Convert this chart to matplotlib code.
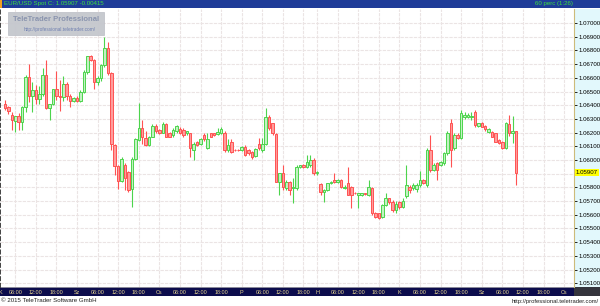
import matplotlib
matplotlib.use("Agg")
import matplotlib.pyplot as plt
from matplotlib.patches import Rectangle
import matplotlib.transforms as mtransforms

plt.rcParams['font.family'] = ['Liberation Sans', 'DejaVu Sans']

# ---------------- data (EUR/USD hourly) ----------------
opens = [
    1.06410, 1.06388, 1.06332, 1.06285, 1.06320, 1.06280, 1.06388, 1.06607, 1.06468, 1.06510,
    1.06444, 1.06480, 1.06624, 1.06380, 1.06407, 1.06515, 1.06470, 1.06460, 1.06554, 1.06466,
    1.06432, 1.06450, 1.06430, 1.06498, 1.06644, 1.06759, 1.06730, 1.06570, 1.06600, 1.06693,
    1.06815, 1.06632, 1.06110, 1.05955, 1.05845, 1.05960, 1.05910, 1.05790, 1.06010, 1.06146,
    1.06231, 1.06160, 1.06110, 1.06170, 1.06250, 1.06220, 1.06200, 1.06262, 1.06200, 1.06180,
    1.06210, 1.06225, 1.06220, 1.06195, 1.06195, 1.06075, 1.06135, 1.06120, 1.06185, 1.06085,
    1.06195, 1.06195, 1.06190, 1.06195, 1.06195, 1.06073, 1.06134, 1.06075, 1.06075, 1.06073,
    1.06098, 1.06073, 1.06061, 1.06030, 1.06120, 1.06073, 1.06114, 1.06316, 1.06267, 1.06187,
    1.05842, 1.05903, 1.05794, 1.05842, 1.05794, 1.05794, 1.05951, 1.05964, 1.05951, 1.05964,
    1.06000, 1.05903, 1.05823, 1.05764, 1.05781, 1.05830, 1.05854, 1.05842, 1.05854, 1.05794,
    1.05830, 1.05806, 1.05760, 1.05745, 1.05745, 1.05757, 1.05745, 1.05794, 1.05611, 1.05611,
    1.05587, 1.05672, 1.05721, 1.05696, 1.05636, 1.05690, 1.05660, 1.05740, 1.05806, 1.05794,
    1.05787, 1.05818, 1.05855, 1.05818, 1.06073, 1.05928, 1.05976, 1.05964, 1.05976, 1.06049,
    1.06273, 1.06086, 1.06183, 1.06159, 1.06316, 1.06316, 1.06316, 1.06353, 1.06248, 1.06268,
    1.06248, 1.06207, 1.06207, 1.06195, 1.06146, 1.06134, 1.06086, 1.06263, 1.06200, 1.06214,
]
highs = [
    1.06441, 1.06392, 1.06351, 1.06322, 1.06340, 1.06392, 1.06620, 1.06700, 1.06570, 1.06550,
    1.06540, 1.06668, 1.06730, 1.06410, 1.06520, 1.06650, 1.06583, 1.06610, 1.06570, 1.06480,
    1.06460, 1.06470, 1.06510, 1.06660, 1.06760, 1.06770, 1.06735, 1.06610, 1.06700, 1.06900,
    1.06863, 1.06640, 1.06120, 1.05965, 1.06020, 1.05980, 1.05920, 1.06020, 1.06160, 1.06414,
    1.06290, 1.06210, 1.06175, 1.06260, 1.06265, 1.06225, 1.06275, 1.06268, 1.06205, 1.06230,
    1.06255, 1.06240, 1.06230, 1.06215, 1.06200, 1.06135, 1.06140, 1.06160, 1.06195, 1.06195,
    1.06200, 1.06200, 1.06230, 1.06240, 1.06210, 1.06150, 1.06150, 1.06078, 1.06078, 1.06100,
    1.06110, 1.06080, 1.06065, 1.06090, 1.06160, 1.06158, 1.06382, 1.06328, 1.06270, 1.06194,
    1.05903, 1.05964, 1.05854, 1.05850, 1.05866, 1.05964, 1.05964, 1.05968, 1.06036, 1.06036,
    1.06012, 1.05920, 1.05830, 1.05790, 1.05830, 1.05850, 1.05903, 1.05860, 1.05860, 1.05815,
    1.05951, 1.05810, 1.05765, 1.05760, 1.05760, 1.05762, 1.05854, 1.05806, 1.05620, 1.05615,
    1.05680, 1.05757, 1.05725, 1.05710, 1.05700, 1.05700, 1.05720, 1.05964, 1.05815, 1.05830,
    1.05831, 1.05923, 1.05860, 1.06086, 1.06183, 1.05980, 1.05988, 1.05995, 1.06061, 1.06210,
    1.06300, 1.06195, 1.06195, 1.06365, 1.06353, 1.06340, 1.06353, 1.06365, 1.06270, 1.06275,
    1.06255, 1.06230, 1.06215, 1.06200, 1.06150, 1.06140, 1.06275, 1.06329, 1.06321, 1.06214,
]
lows = [
    1.06363, 1.06339, 1.06217, 1.06205, 1.06220, 1.06222, 1.06350, 1.06424, 1.06350, 1.06410,
    1.06410, 1.06470, 1.06370, 1.06290, 1.06400, 1.06440, 1.06360, 1.06430, 1.06440, 1.06390,
    1.06420, 1.06420, 1.06420, 1.06490, 1.06630, 1.06720, 1.06515, 1.06550, 1.06580, 1.06680,
    1.06620, 1.06071, 1.05890, 1.05785, 1.05840, 1.05780, 1.05770, 1.05660, 1.06000, 1.06140,
    1.06120, 1.06100, 1.06105, 1.06165, 1.06195, 1.06190, 1.06195, 1.06165, 1.06165, 1.06170,
    1.06200, 1.06190, 1.06170, 1.06185, 1.06025, 1.06000, 1.06100, 1.06110, 1.06140, 1.06080,
    1.06165, 1.06175, 1.06180, 1.06190, 1.06060, 1.06060, 1.06050, 1.06068, 1.06068, 1.06068,
    1.06030, 1.06040, 1.06010, 1.06020, 1.06070, 1.06060, 1.06110, 1.06220, 1.06180, 1.05842,
    1.05745, 1.05781, 1.05781, 1.05745, 1.05684, 1.05781, 1.05940, 1.05945, 1.05939, 1.05951,
    1.05891, 1.05891, 1.05745, 1.05696, 1.05775, 1.05825, 1.05830, 1.05835, 1.05794, 1.05790,
    1.05745, 1.05648, 1.05750, 1.05648, 1.05740, 1.05745, 1.05740, 1.05599, 1.05580, 1.05570,
    1.05580, 1.05665, 1.05680, 1.05623, 1.05610, 1.05640, 1.05650, 1.05720, 1.05760, 1.05780,
    1.05770, 1.05806, 1.05825, 1.05806, 1.05916, 1.05920, 1.05855, 1.05955, 1.05964, 1.06040,
    1.05952, 1.06073, 1.06150, 1.06150, 1.06300, 1.06310, 1.06292, 1.06244, 1.06240, 1.06240,
    1.06215, 1.06200, 1.06165, 1.06130, 1.06115, 1.06080, 1.06080, 1.06175, 1.06122, 1.05818,
]
closes = [
    1.06376, 1.06359, 1.06290, 1.06320, 1.06280, 1.06388, 1.06607, 1.06468, 1.06510, 1.06444,
    1.06480, 1.06624, 1.06380, 1.06407, 1.06515, 1.06470, 1.06460, 1.06554, 1.06466, 1.06432,
    1.06450, 1.06430, 1.06498, 1.06644, 1.06759, 1.06730, 1.06570, 1.06600, 1.06693, 1.06815,
    1.06632, 1.06120, 1.05955, 1.05845, 1.06010, 1.05870, 1.05780, 1.06010, 1.06151, 1.06231,
    1.06170, 1.06110, 1.06170, 1.06250, 1.06210, 1.06200, 1.06262, 1.06170, 1.06170, 1.06220,
    1.06245, 1.06200, 1.06185, 1.06210, 1.06085, 1.06120, 1.06110, 1.06150, 1.06150, 1.06150,
    1.06170, 1.06185, 1.06207, 1.06225, 1.06073, 1.06110, 1.06061, 1.06070, 1.06070, 1.06098,
    1.06037, 1.06049, 1.06025, 1.06078, 1.06085, 1.06114, 1.06316, 1.06231, 1.06194, 1.05842,
    1.05903, 1.05806, 1.05842, 1.05781, 1.05800, 1.05951, 1.05960, 1.05951, 1.05988, 1.06000,
    1.05903, 1.05910, 1.05764, 1.05781, 1.05830, 1.05842, 1.05842, 1.05854, 1.05806, 1.05806,
    1.05745, 1.05745, 1.05757, 1.05757, 1.05757, 1.05750, 1.05806, 1.05611, 1.05587, 1.05575,
    1.05672, 1.05721, 1.05690, 1.05636, 1.05680, 1.05660, 1.05700, 1.05818, 1.05782, 1.05818,
    1.05818, 1.05855, 1.05831, 1.06073, 1.05928, 1.05964, 1.05928, 1.05988, 1.06049, 1.06200,
    1.06073, 1.06183, 1.06159, 1.06341, 1.06329, 1.06329, 1.06321, 1.06256, 1.06268, 1.06244,
    1.06224, 1.06224, 1.06171, 1.06134, 1.06122, 1.06086, 1.06268, 1.06195, 1.06214, 1.05907,
]

# time axis labels (candle index where each label sits)
time_tick_pos = [-1.3, 3, 9, 15, 21, 27, 33, 39, 45, 51, 57, 63, 69, 75, 81, 87,
                 91, 97, 103, 109, 115, 121, 127, 133, 139, 145, 151, 157, 163]
time_tick_lab = ['K', '06:00', '12:00', '18:00', 'Sz', '06:00', '12:00', '18:00',
                 'Cs', '06:00', '12:00', '18:00', 'P', '06:00', '12:00', '18:00',
                 'H', '06:00', '12:00', '18:00', 'K', '06:00', '12:00', '18:00',
                 'Sz', '06:00', '12:00', '18:00', 'Cs']

price_ticks = [1.051, 1.052, 1.053, 1.054, 1.055, 1.056, 1.057, 1.058, 1.059, 1.060,
               1.061, 1.062, 1.063, 1.064, 1.065, 1.066, 1.067, 1.068, 1.069, 1.070]
last_price = 1.05907
change = -0.00415

# ---------------- figure ----------------
W, H = 600, 306
fig = plt.figure(figsize=(W / 100, H / 100), dpi=100)
fig.patch.set_facecolor('white')

def fx(px):
    return px / W

def fy(py):
    return 1 - py / H

ax_left, ax_right, ax_top, ax_bot = 0, 574, 9, 287
ax = fig.add_axes([fx(ax_left), fy(ax_bot), fx(ax_right - ax_left), (ax_bot - ax_top) / H])
ax.set_facecolor('white')
ax.set_zorder(10)

ft = fig.transFigure
# right price panel
fig.patches.append(Rectangle((fx(574), fy(287)), fx(26), (287 - 9) / H, transform=ft,
                             facecolor='#e2f8fc', edgecolor='none', zorder=1))
# top bar
fig.patches.append(Rectangle((0, fy(8)), 1, 8 / H, transform=ft,
                             facecolor='#1f3c98', edgecolor='none', zorder=1))
fig.patches.append(Rectangle((0, fy(8)), fx(2), 8 / H, transform=ft,
                             facecolor='#f0a020', edgecolor='none', zorder=2))
# bottom bar
fig.patches.append(Rectangle((0, fy(296)), fx(574), 9 / H, transform=ft,
                             facecolor='#0c0c4c', edgecolor='none', zorder=1))
fig.patches.append(Rectangle((fx(574), fy(296)), fx(26), 9 / H, transform=ft,
                             facecolor='#34343c', edgecolor='none', zorder=1))
fig.patches.append(Rectangle((0, fy(287.6)), fx(574), 0.8 / H, transform=ft,
                             facecolor='#8a8a9a', edgecolor='none', zorder=2))

# ---------------- candles ----------------
n = len(closes)
xs = list(range(n))
up_edge, up_fill = '#4cd44c', '#c2f2c2'
dn_edge, dn_fill = '#ff5252', '#ff9c9c'
edge_cols = [up_edge if c >= o else dn_edge for o, c in zip(opens, closes)]
fill_cols = [up_fill if c >= o else dn_fill for o, c in zip(opens, closes)]
ax.vlines(xs, lows, highs, colors=edge_cols, linewidth=0.8, zorder=3)
bottoms = [min(o, c) for o, c in zip(opens, closes)]
heights = [max(abs(c - o), 0.00002) for o, c in zip(opens, closes)]
ax.bar(xs, heights, bottom=bottoms, width=0.74, color=fill_cols,
       edgecolor=edge_cols, linewidth=0.7, zorder=4)

# ---------------- axes ----------------
x0, dx = 5, 3.43
ax.set_xlim((0 - x0) / dx, (574 - x0) / dx)
ppx = 0.001 / 13.7
ax.set_ylim(1.051 - (287 - 283.3) * ppx, 1.070 + (23 - 9) * ppx)

for p in price_ticks:
    ax.axhline(p, color='#ebe4e4', linewidth=0.8, linestyle=(0, (3, 1)), zorder=1)
for t in time_tick_pos[1:]:
    ax.axvline(t, color='#ebe4e4', linewidth=0.8, linestyle=(0, (3, 1)), zorder=1)

ax.yaxis.tick_right()
ax.set_yticks(price_ticks)
ax.set_yticklabels(['' if abs(p - 1.059) < 1e-9 else f'{p:.5f}' for p in price_ticks])
ax.tick_params(axis='y', direction='out', length=2, width=0.6, pad=1,
               labelsize=4.4, colors='#000000')

ax.set_xticks(time_tick_pos)
ax.set_xticklabels(time_tick_lab)
ax.tick_params(axis='x', length=0, pad=2.0, labelsize=3.9, labelcolor='#e8d890')

for s in ['top', 'bottom']:
    ax.spines[s].set_visible(False)
ax.spines['right'].set_color('#cdbb7a')
ax.spines['right'].set_linestyle((0, (1, 1)))
ax.spines['right'].set_linewidth(0.8)
ax.spines['left'].set_color('#222222')
ax.spines['left'].set_linestyle((0, (2, 2)))
ax.spines['left'].set_linewidth(1.2)

# current price label
trans = mtransforms.blended_transform_factory(ft, ax.transData)
ax.text(fx(575.5), last_price, f'{last_price:.5f}', transform=trans, fontsize=4.4,
        va='center', ha='left', color='black', zorder=12, clip_on=False,
        bbox=dict(boxstyle='square,pad=0.15', facecolor='#ffff00', edgecolor='none'))

# watermark (drawn in the axes so it sits above the plot background)
ax.add_patch(Rectangle((fx(8), fy(35)), fx(96), 23 / H, transform=ft, clip_on=False,
                       facecolor='#c4c7cd', edgecolor='#b8bbc2', linewidth=0.5,
                       alpha=0.95, zorder=20))
ax.text(fx(56.5), fy(19.5), 'TeleTrader Professional', transform=ft, fontsize=5.5,
        fontweight='bold', color='#8a94ae', ha='center', va='center', zorder=21)
ax.text(fx(60), fy(29), 'http://professional.teletrader.com/', transform=ft,
        fontsize=3.4, color='#6f7fb0', ha='center', va='center', zorder=21)

# header texts
fig.text(fx(4), fy(4), f'EUR/USD Spot C: {last_price:.5f} {change:.5f}', fontsize=4.4,
         color='#3ee03e', ha='left', va='center', zorder=9)
fig.text(fx(573), fy(4), '60 perc (1:26)', fontsize=4.4, color='#3ee03e',
         ha='right', va='center', zorder=9)

# footer texts
fig.text(fx(1), fy(301), '\u00a9 2015 TeleTrader Software GmbH', fontsize=4.4,
         color='#202020', ha='left', va='center')
fig.text(fx(599), fy(301), 'http://professional.teletrader.com/', fontsize=4.2,
         color='#202020', ha='right', va='center')

fig.savefig('out.png', dpi=100, facecolor='white')
